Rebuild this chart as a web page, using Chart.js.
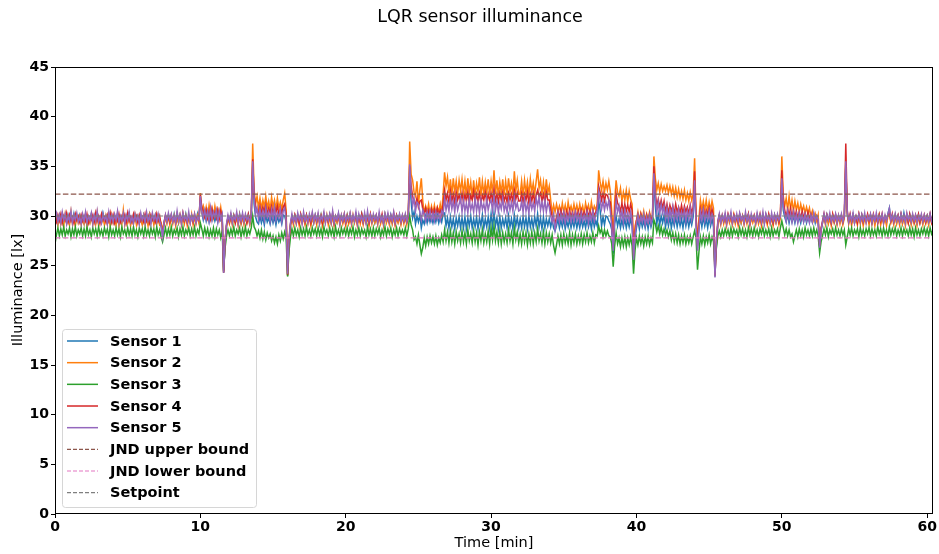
<!DOCTYPE html>
<html><head><meta charset="utf-8">
<script src="https://cdn.jsdelivr.net/npm/chart.js@4.4.1/dist/chart.umd.min.js"></script>
<style>html,body{margin:0;padding:0;background:#fff;}canvas{display:block;}</style>
</head><body>
<canvas id="c" width="939" height="554"></canvas>
<script>
// Time samples [min]
const time = [
0,0.1,0.2,0.3,0.4,0.5,0.6,0.7,0.8,0.9,1,1.1,1.2,1.3,1.4,1.5,1.6,1.7,1.8,1.9,
2,2.1,2.2,2.3,2.4,2.5,2.6,2.7,2.8,2.9,3,3.1,3.2,3.3,3.4,3.5,3.6,3.7,3.8,3.9,
4,4.1,4.2,4.3,4.4,4.5,4.6,4.7,4.8,4.9,5,5.1,5.2,5.3,5.4,5.5,5.6,5.7,5.8,5.9,
6,6.1,6.2,6.3,6.4,6.5,6.6,6.7,6.8,6.9,7,7.1,7.2,7.3,7.4,7.5,7.6,7.7,7.8,7.9,
8,8.1,8.2,8.3,8.4,8.5,8.6,8.7,8.8,8.9,9,9.1,9.2,9.3,9.4,9.5,9.6,9.7,9.8,9.9,
10,10.1,10.2,10.3,10.4,10.5,10.6,10.7,10.8,10.9,11,11.1,11.2,11.3,11.4,11.5,11.6,11.7,11.8,11.9,
12,12.1,12.2,12.3,12.4,12.5,12.6,12.7,12.8,12.9,13,13.1,13.2,13.3,13.4,13.5,13.6,13.7,13.8,13.9,
14,14.1,14.2,14.3,14.4,14.5,14.6,14.7,14.8,14.9,15,15.1,15.2,15.3,15.4,15.5,15.6,15.7,15.8,15.9,
16,16.1,16.2,16.3,16.4,16.5,16.6,16.7,16.8,16.9,17,17.1,17.2,17.3,17.4,17.5,17.6,17.7,17.8,17.9,
18,18.1,18.2,18.3,18.4,18.5,18.6,18.7,18.8,18.9,19,19.1,19.2,19.3,19.4,19.5,19.6,19.7,19.8,19.9,
20,20.1,20.2,20.3,20.4,20.5,20.6,20.7,20.8,20.9,21,21.1,21.2,21.3,21.4,21.5,21.6,21.7,21.8,21.9,
22,22.1,22.2,22.3,22.4,22.5,22.6,22.7,22.8,22.9,23,23.1,23.2,23.3,23.4,23.5,23.6,23.7,23.8,23.9,
24,24.1,24.2,24.3,24.4,24.5,24.6,24.7,24.8,24.9,25,25.1,25.2,25.3,25.4,25.5,25.6,25.7,25.8,25.9,
26,26.1,26.2,26.3,26.4,26.5,26.6,26.7,26.8,26.9,27,27.1,27.2,27.3,27.4,27.5,27.6,27.7,27.8,27.9,
28,28.1,28.2,28.3,28.4,28.5,28.6,28.7,28.8,28.9,29,29.1,29.2,29.3,29.4,29.5,29.6,29.7,29.8,29.9,
30,30.1,30.2,30.3,30.4,30.5,30.6,30.7,30.8,30.9,31,31.1,31.2,31.3,31.4,31.5,31.6,31.7,31.8,31.9,
32,32.1,32.2,32.3,32.4,32.5,32.6,32.7,32.8,32.9,33,33.1,33.2,33.3,33.4,33.5,33.6,33.7,33.8,33.9,
34,34.1,34.2,34.3,34.4,34.5,34.6,34.7,34.8,34.9,35,35.1,35.2,35.3,35.4,35.5,35.6,35.7,35.8,35.9,
36,36.1,36.2,36.3,36.4,36.5,36.6,36.7,36.8,36.9,37,37.1,37.2,37.3,37.4,37.5,37.6,37.7,37.8,37.9,
38,38.1,38.2,38.3,38.4,38.5,38.6,38.7,38.8,38.9,39,39.1,39.2,39.3,39.4,39.5,39.6,39.7,39.8,39.9,
40,40.1,40.2,40.3,40.4,40.5,40.6,40.7,40.8,40.9,41,41.1,41.2,41.3,41.4,41.5,41.6,41.7,41.8,41.9,
42,42.1,42.2,42.3,42.4,42.5,42.6,42.7,42.8,42.9,43,43.1,43.2,43.3,43.4,43.5,43.6,43.7,43.8,43.9,
44,44.1,44.2,44.3,44.4,44.5,44.6,44.7,44.8,44.9,45,45.1,45.2,45.3,45.4,45.5,45.6,45.7,45.8,45.9,
46,46.1,46.2,46.3,46.4,46.5,46.6,46.7,46.8,46.9,47,47.1,47.2,47.3,47.4,47.5,47.6,47.7,47.8,47.9,
48,48.1,48.2,48.3,48.4,48.5,48.6,48.7,48.8,48.9,49,49.1,49.2,49.3,49.4,49.5,49.6,49.7,49.8,49.9,
50,50.1,50.2,50.3,50.4,50.5,50.6,50.7,50.8,50.9,51,51.1,51.2,51.3,51.4,51.5,51.6,51.7,51.8,51.9,
52,52.1,52.2,52.3,52.4,52.5,52.6,52.7,52.8,52.9,53,53.1,53.2,53.3,53.4,53.5,53.6,53.7,53.8,53.9,
54,54.1,54.2,54.3,54.4,54.5,54.6,54.7,54.8,54.9,55,55.1,55.2,55.3,55.4,55.5,55.6,55.7,55.8,55.9,
56,56.1,56.2,56.3,56.4,56.5,56.6,56.7,56.8,56.9,57,57.1,57.2,57.3,57.4,57.5,57.6,57.7,57.8,57.9,
58,58.1,58.2,58.3,58.4,58.5,58.6,58.7,58.8,58.9,59,59.1,59.2,59.3,59.4,59.5,59.6,59.7,59.8,59.9,
60,60.1,60.2,60.3,60.4];

const sensor1 = [
29.5,30.1,29.3,30.0,29.4,30.2,29.6,29.9,29.3,30.1,29.5,30.0,29.4,30.2,29.3,29.9,29.6,30.1,29.4,30.0,
29.3,30.1,29.5,29.9,29.4,30.2,29.6,30.0,29.3,30.1,29.5,29.9,29.4,30.3,29.6,30.0,29.3,30.1,29.5,29.9,
29.4,30.0,29.6,30.2,29.3,29.9,29.5,30.1,29.4,30.0,29.6,30.2,29.3,29.9,29.5,30.1,29.4,30.0,29.6,29.9,
29.3,30.1,29.5,30.0,29.4,30.2,29.6,29.9,29.3,30.1,29.5,30.0,29.4,29.1,28.0,29.3,30.0,29.5,30.1,29.4,
30.0,29.4,30.2,29.5,29.9,29.3,30.1,29.6,30.0,29.4,30.2,29.5,29.9,29.3,30.1,29.6,30.0,29.4,30.2,29.5,
31.6,30.4,29.6,30.3,29.5,30.2,29.4,30.1,29.6,30.2,29.5,30.0,29.4,30.1,29.6,30.0,24.3,27.3,29.0,29.8,
29.4,30.0,29.3,30.1,29.5,29.9,29.4,30.2,29.3,30.0,29.5,29.9,29.4,30.1,29.3,30.0,35.0,31.2,29.9,29.4,
29.2,30.0,29.3,29.9,29.1,30.1,29.4,29.8,29.2,30.0,29.3,29.9,29.1,30.0,29.4,29.8,29.2,30.1,30.0,29.4,
24.0,27.4,29.1,29.9,29.4,30.0,29.3,30.1,29.5,29.9,29.4,30.0,29.3,30.1,29.5,29.9,29.4,30.0,29.3,30.1,
29.5,29.9,29.4,30.1,29.3,30.0,29.5,29.9,29.4,30.1,29.3,30.0,29.5,29.9,29.4,30.2,29.3,30.0,29.5,29.9,
29.4,30.1,29.3,30.0,29.5,29.9,29.4,30.1,29.3,30.0,29.5,30.2,29.4,29.9,29.3,30.1,29.5,30.0,29.4,29.9,
29.3,30.0,29.5,30.1,29.4,29.9,29.3,30.2,29.5,30.0,29.4,30.1,29.3,29.9,29.5,30.0,29.4,30.1,29.3,30.0,
29.5,29.9,29.4,30.0,34.0,31.5,29.8,30.4,29.2,30.0,29.4,30.1,28.8,29.6,29.2,30.0,29.3,30.1,29.4,29.9,
29.3,30.0,29.4,30.1,29.3,29.9,29.4,30.2,30.3,29.0,29.8,28.8,29.9,28.9,29.7,28.7,29.8,29.0,29.9,28.8,
29.8,28.8,29.9,28.7,29.8,29.0,30.0,28.8,29.7,28.9,29.9,28.7,29.8,29.0,30.1,28.8,29.7,28.9,29.9,28.8,
30.2,28.9,30.3,29.0,29.8,28.7,29.9,28.8,29.7,29.0,29.8,28.8,30.0,28.9,29.7,28.7,30.1,29.0,29.8,28.8,
29.7,28.8,29.9,28.9,29.8,28.7,30.0,28.9,29.7,28.8,29.9,29.0,30.2,28.9,29.8,28.7,29.9,28.8,29.7,29.0,
29.7,28.9,29.6,28.8,28.5,29.0,29.7,28.8,29.6,28.9,29.7,28.7,29.5,28.9,29.7,28.8,29.6,28.9,29.7,28.8,
29.6,28.8,29.7,28.9,29.5,28.8,29.7,28.9,29.6,28.7,29.8,28.9,29.5,29.0,31.5,30.6,29.0,29.9,29.1,30.0,
29.9,29.5,29.2,28.6,26.2,29.2,30.0,29.0,29.7,28.8,29.6,28.9,29.7,28.8,29.6,28.9,29.7,29.0,25.9,27.8,
28.8,29.6,28.7,29.7,28.9,29.5,28.8,29.6,28.7,29.7,28.9,29.5,33.5,31.0,29.2,30.2,29.1,30.0,29.3,30.1,
28.9,29.8,29.0,29.9,28.8,29.7,29.0,29.9,28.9,29.8,29.0,29.7,28.8,29.9,29.0,29.8,28.9,29.7,29.1,29.9,
33.0,29.4,26.8,28.9,29.8,28.9,29.9,29.0,29.7,28.8,29.8,29.0,29.7,28.9,23.9,27.2,29.2,30.0,29.3,29.9,
29.4,30.0,29.3,29.9,29.5,30.1,29.3,30.0,29.4,29.9,29.5,30.1,29.3,30.0,29.4,29.9,29.5,30.1,29.3,30.0,
29.5,29.9,29.3,30.1,29.4,30.0,29.5,29.9,29.3,30.1,29.4,30.0,29.5,29.9,29.3,30.1,29.4,30.0,29.5,29.9,
33.0,30.6,29.9,29.4,30.2,29.3,30.1,29.4,30.0,29.3,30.1,29.4,29.9,29.3,30.1,29.4,30.0,29.3,29.9,29.4,
30.0,29.4,30.1,29.3,29.9,29.5,26.9,28.5,29.3,30.0,29.4,30.1,29.3,29.9,29.5,30.0,29.4,30.1,29.3,29.9,
29.4,30.0,29.3,29.9,35.0,30.1,29.3,30.0,29.4,30.1,29.3,29.9,29.5,30.0,29.4,30.1,29.3,29.9,29.5,30.0,
29.4,30.1,29.3,30.0,29.5,29.9,29.4,30.1,29.3,30.0,29.5,29.9,29.4,30.2,30.8,29.5,30.0,29.4,30.1,29.3,
30.0,29.4,30.1,29.3,30.3,29.5,30.0,29.4,30.1,29.3,29.9,29.5,30.0,29.4,30.1,29.3,30.0,29.5,29.9,29.4,
30.0,29.3,30.1,29.5,29.9];

const sensor2 = [
29.4,29.9,29.1,30.0,29.2,29.8,29.0,30.2,29.3,29.7,29.1,30.4,29.2,29.8,29.0,30.0,29.3,29.9,29.1,29.7,
29.2,30.0,29.0,29.8,29.3,30.1,29.1,29.9,29.2,30.3,29.0,29.7,29.3,29.9,29.1,30.0,29.2,29.8,29.0,30.1,
29.3,29.9,29.1,30.2,29.0,29.8,29.2,30.6,29.1,29.9,29.3,30.0,29.0,29.8,29.2,30.1,29.1,29.9,29.3,29.7,
29.1,30.0,29.2,29.8,29.0,30.1,29.3,29.9,29.1,30.0,29.2,29.8,29.1,29.3,28.8,29.1,29.9,29.2,30.0,29.1,
29.9,29.2,30.0,29.0,29.8,29.3,30.1,29.1,29.9,29.2,30.0,29.0,29.8,29.3,30.2,29.1,29.9,29.2,30.0,29.3,
32.3,30.5,31.0,30.1,30.9,30.0,31.1,30.2,30.8,29.9,31.0,30.1,30.7,30.0,30.9,29.8,24.4,27.6,29.0,29.8,
29.2,29.9,29.1,30.0,29.3,29.8,29.0,30.1,29.2,29.9,29.1,30.0,29.3,29.8,29.1,29.9,37.3,32.6,31.2,32.0,
30.8,31.8,30.7,31.6,30.9,32.0,30.8,31.5,30.6,31.9,30.9,31.6,30.7,31.8,30.8,31.4,30.7,31.6,32.3,30.6,
24.0,27.5,29.0,29.8,29.1,30.0,29.2,29.9,29.0,30.1,29.3,29.8,29.1,30.0,29.2,29.9,29.0,29.8,29.3,30.0,
29.1,29.9,29.2,30.0,29.0,29.8,29.3,30.1,29.1,29.9,29.2,30.0,29.0,29.8,29.3,29.9,29.1,30.0,29.2,29.8,
29.0,30.0,29.2,29.8,29.1,30.1,29.3,29.9,29.0,29.8,29.2,30.0,29.1,29.9,29.3,29.8,29.0,30.1,29.2,29.9,
29.3,29.8,29.1,30.0,29.2,29.9,29.0,30.1,29.3,29.8,29.1,29.9,29.2,30.0,29.0,29.8,29.3,29.9,29.1,30.0,
29.2,29.9,29.1,29.8,37.5,34.2,33.6,32.4,32.0,33.5,31.2,32.6,33.8,31.5,30.3,31.0,30.4,31.2,30.2,31.0,
30.3,31.1,30.2,30.9,30.4,31.2,30.3,32.2,34.4,33.0,33.9,32.3,33.7,32.1,33.8,32.4,33.5,32.2,33.6,32.5,
33.7,32.2,33.5,32.0,33.8,32.3,33.4,31.9,33.6,32.1,33.3,32.4,33.9,32.0,33.5,32.2,33.4,32.3,33.7,32.1,
33.5,32.3,34.6,32.2,33.6,32.0,33.4,32.3,33.7,32.1,33.5,32.2,33.8,32.4,33.3,32.1,34.5,32.5,33.6,32.2,
32.2,33.5,32.0,33.6,32.3,33.4,32.1,33.7,32.4,33.3,32.2,33.5,34.7,32.8,33.6,32.2,33.4,32.1,33.7,32.3,
33.0,31.6,30.3,31.1,30.4,31.2,30.5,31.0,30.3,31.3,30.4,31.1,30.2,31.4,30.5,31.0,30.3,31.2,30.4,31.1,
30.3,31.2,30.4,31.0,30.2,31.3,30.5,31.1,30.3,31.4,30.4,31.0,30.6,31.2,34.6,33.4,32.6,33.5,32.4,33.3,
32.6,33.5,32.5,30.5,28.0,31.5,33.6,32.4,32.0,32.8,31.5,32.4,31.6,32.6,31.4,32.5,31.7,31.2,27.0,29.0,
29.6,30.4,29.5,30.3,29.7,30.5,29.6,30.2,29.5,30.4,29.7,30.1,36.0,33.8,32.6,33.3,32.4,33.2,32.5,33.0,
32.5,33.1,32.3,33.0,32.2,32.9,32.0,32.8,31.9,32.7,31.8,32.5,31.7,32.6,31.6,32.3,31.5,32.4,31.6,32.2,
35.8,30.0,27.5,29.8,31.6,30.7,31.5,30.6,31.6,30.5,31.4,30.6,31.5,30.8,24.0,27.4,29.2,29.9,29.1,30.0,
29.2,29.9,29.0,30.0,29.3,29.8,29.1,30.1,29.2,29.9,29.0,29.8,29.3,30.0,29.1,29.9,29.2,30.1,29.0,29.8,
29.3,29.9,29.1,30.0,29.2,29.8,29.0,30.1,29.3,29.9,29.1,30.0,29.2,29.8,29.0,29.9,29.3,30.0,29.1,29.8,
36.0,32.0,31.0,31.8,30.6,32.0,30.7,31.6,30.5,31.5,30.6,31.3,30.4,31.2,30.5,31.0,30.3,30.9,30.2,30.8,
29.9,30.5,29.6,30.2,29.5,30.1,27.2,28.8,29.3,29.9,29.1,30.0,29.2,29.8,29.0,30.1,29.3,29.9,29.1,30.0,
29.2,29.9,29.1,29.8,35.2,30.2,29.2,29.9,29.0,30.0,29.3,29.8,29.1,30.1,29.2,29.9,29.0,29.8,29.3,30.0,
29.1,29.9,29.2,30.0,29.0,29.8,29.3,30.1,29.1,29.9,29.2,29.8,29.0,30.0,30.2,29.3,29.9,29.1,30.0,29.2,
29.9,29.1,30.0,29.2,29.8,29.0,30.1,29.3,29.9,29.1,30.0,29.2,29.8,29.0,29.9,29.3,30.0,29.1,29.8,29.2,
29.9,29.1,30.0,29.3,29.8];

const sensor3 = [
27.2,28.1,28.8,28.0,28.7,28.1,28.9,28.0,28.6,28.2,28.8,27.9,28.7,28.1,28.9,28.0,28.6,28.2,28.8,28.0,
28.7,28.0,28.9,28.1,28.6,27.9,28.8,28.2,28.7,28.0,28.9,28.1,28.6,28.0,28.8,28.2,28.7,27.9,28.9,28.1,
28.6,28.0,28.8,28.1,28.7,27.9,28.9,28.2,28.6,28.0,28.8,28.1,28.7,28.0,28.9,28.1,28.6,27.9,28.8,28.2,
28.7,28.0,28.9,28.1,28.6,28.0,28.8,28.2,28.7,27.9,28.9,28.1,28.6,27.9,27.4,28.1,28.8,28.0,28.7,28.1,
28.9,28.0,28.6,28.2,28.8,27.9,28.7,28.1,28.9,28.0,28.6,28.2,28.8,28.0,28.7,28.1,28.9,28.0,28.6,28.2,
29.3,28.7,28.0,28.8,28.1,28.7,27.9,28.6,28.0,28.8,27.9,28.7,28.1,28.6,27.8,28.5,24.5,26.8,28.0,28.6,
28.0,28.7,28.1,28.9,28.0,28.6,28.2,28.8,27.9,28.7,28.1,28.9,28.0,28.6,28.2,28.8,30.0,28.9,28.6,28.0,
28.5,27.8,28.6,27.7,28.4,27.6,28.3,27.8,28.2,27.5,28.0,27.3,27.9,27.2,28.1,27.5,28.3,27.7,28.4,27.8,
23.9,26.5,27.9,28.7,28.0,28.8,28.1,28.6,27.9,28.8,28.1,28.7,28.0,28.9,28.1,28.6,28.0,28.8,28.2,28.7,
28.0,28.8,28.1,28.7,27.9,28.9,28.2,28.6,28.0,28.8,28.1,28.7,27.9,28.9,28.1,28.6,28.0,28.8,28.2,28.7,
28.1,28.8,28.0,28.7,28.2,28.9,27.9,28.6,28.1,28.8,28.0,28.7,28.2,28.6,27.9,28.9,28.1,28.7,28.0,28.8,
28.0,28.7,28.2,28.8,27.9,28.6,28.1,28.9,28.0,28.7,28.2,28.8,27.9,28.6,28.1,28.8,28.0,28.7,28.2,28.6,
28.1,28.8,28.0,28.7,30.0,29.1,28.6,27.6,27.9,27.2,28.1,27.1,26.2,26.8,27.8,27.0,27.9,27.2,28.0,27.3,
27.9,27.2,28.0,27.1,27.8,27.3,28.1,27.4,28.6,27.5,28.4,27.3,28.5,27.4,28.3,27.2,28.4,27.5,28.2,27.3,
28.5,27.4,28.3,27.2,28.6,27.5,28.2,27.3,28.5,27.4,28.3,27.1,28.4,27.5,28.6,27.3,28.2,27.4,28.5,27.2,
28.8,27.6,29.0,27.5,28.4,27.3,28.5,27.2,28.3,27.4,28.2,27.3,28.6,27.5,28.3,27.2,28.8,27.6,28.4,27.3,
28.2,27.2,28.4,27.4,28.3,27.1,28.2,27.3,28.4,27.2,28.3,27.4,28.7,27.5,28.2,27.3,28.4,27.2,28.3,27.4,
28.2,27.3,28.1,27.0,26.3,27.1,28.0,27.2,28.1,27.1,28.2,27.3,28.0,27.2,28.3,27.1,28.1,27.3,28.2,27.2,
28.0,27.3,28.2,27.2,28.1,27.4,28.3,27.3,28.0,27.4,28.3,27.3,28.1,28.0,29.0,28.3,28.7,27.9,28.6,28.0,
28.5,28.0,27.9,27.2,24.9,27.0,28.3,27.2,27.8,26.9,27.8,27.0,27.9,26.9,27.8,27.1,27.9,27.0,24.2,26.5,
27.8,27.1,28.0,27.2,27.9,27.0,27.9,27.2,28.0,27.1,27.8,27.3,29.6,29.2,28.4,29.0,28.2,28.9,28.1,28.7,
28.1,28.6,27.9,28.5,27.6,28.3,27.4,28.2,27.3,28.1,27.2,28.0,27.3,28.1,27.2,27.9,27.3,28.0,27.2,27.9,
28.5,27.8,24.6,26.4,27.9,27.2,28.0,27.1,27.9,27.3,28.1,27.2,27.9,27.4,25.0,26.8,28.0,28.5,27.9,28.6,
28.0,28.7,28.1,28.6,27.9,28.8,28.0,28.7,28.2,28.6,27.9,28.8,28.1,28.7,28.0,28.6,27.9,28.8,28.1,28.7,
28.0,28.8,28.1,28.6,27.9,28.7,28.2,28.8,28.0,28.6,28.1,28.7,27.9,28.8,28.0,28.6,28.2,28.7,27.9,28.8,
29.5,28.8,28.1,28.7,28.0,28.6,27.9,28.2,27.4,28.0,28.6,27.9,28.7,28.0,28.6,27.9,28.8,28.1,28.6,28.0,
28.7,28.0,28.8,28.1,28.6,28.0,26.3,27.4,28.0,28.7,28.1,28.8,27.9,28.6,28.2,28.7,28.0,28.8,28.1,28.6,
28.0,28.7,28.1,28.6,27.1,27.9,28.7,28.1,28.8,28.0,28.6,28.2,28.7,27.9,28.8,28.1,28.6,28.0,28.7,28.2,
28.8,28.0,28.7,28.1,28.6,28.0,28.9,28.2,28.7,28.0,28.8,28.1,28.6,28.0,28.9,28.1,28.7,28.2,28.8,28.0,
28.6,28.1,28.8,28.0,28.7,28.2,28.6,28.0,28.8,28.1,28.7,27.9,28.8,28.1,28.6,28.0,28.7,28.2,28.8,28.1,
28.7,28.0,28.8,28.2,28.6];

const sensor4 = [
29.9,29.4,30.1,29.5,30.2,29.3,30.0,29.6,30.3,29.4,30.1,29.5,29.9,29.3,30.2,29.6,30.0,29.4,30.1,29.5,
30.0,29.5,30.2,29.3,29.9,29.6,30.1,29.4,30.3,29.5,30.0,29.3,30.2,29.6,29.9,29.4,30.1,29.5,30.3,29.4,
30.1,29.3,29.9,29.5,30.2,29.4,30.0,29.6,30.1,29.3,30.3,29.5,29.9,29.4,30.2,29.6,30.0,29.3,30.1,29.5,
29.9,29.4,30.2,29.5,30.0,29.3,30.1,29.6,29.9,29.4,30.2,29.5,30.0,29.1,28.2,29.3,30.1,29.5,29.9,29.4,
30.1,29.5,29.9,29.3,30.2,29.6,30.0,29.4,30.3,29.5,29.9,29.3,30.1,29.6,30.0,29.4,30.2,29.5,29.9,29.6,
32.1,30.9,30.5,29.9,30.6,29.8,30.5,29.7,30.7,29.9,30.4,29.8,30.6,29.7,30.5,29.9,24.3,27.4,29.1,29.9,
29.4,30.1,29.5,30.0,29.3,30.2,29.6,29.9,29.4,30.1,29.5,30.0,29.3,30.2,29.6,29.9,35.7,32.0,31.0,30.4,
30.3,31.0,30.2,30.9,30.4,31.1,30.1,30.8,30.3,31.0,30.2,30.9,30.4,31.0,30.1,30.8,30.3,30.9,31.2,30.2,
24.1,27.6,29.2,30.0,29.4,30.1,29.5,29.9,29.3,30.2,29.6,30.0,29.4,30.1,29.5,29.9,29.3,30.2,29.6,30.0,
29.4,30.1,29.5,30.0,29.3,30.2,29.6,29.9,29.4,30.1,29.5,30.3,29.3,30.0,29.6,30.1,29.4,29.9,29.5,30.2,
29.3,30.0,29.5,30.2,29.4,29.9,29.6,30.1,29.3,30.0,29.5,30.2,29.4,30.1,29.6,29.9,29.3,30.2,29.5,30.0,
29.6,30.1,29.4,30.0,29.5,30.2,29.3,29.9,29.6,30.1,29.4,30.0,29.5,30.3,29.3,30.1,29.6,29.9,29.4,30.0,
29.5,30.1,29.4,29.9,35.0,33.0,32.0,31.4,31.2,31.8,30.9,31.5,31.6,30.7,30.2,30.8,30.1,30.6,30.0,30.7,
30.1,30.7,30.0,30.8,30.2,30.6,30.1,31.2,32.6,31.6,32.3,31.4,32.5,31.5,32.2,31.3,32.4,31.6,32.1,31.5,
32.3,31.4,32.2,31.5,32.4,31.3,32.1,31.6,32.5,31.4,32.2,31.5,32.3,31.3,32.1,31.6,32.4,31.4,32.2,31.5,
32.3,31.6,32.7,31.5,32.2,31.4,32.3,31.6,32.4,31.5,32.1,31.4,32.3,31.6,32.2,31.5,32.6,31.7,32.3,31.5,
31.5,32.3,31.4,32.2,31.6,32.4,31.3,32.2,31.5,32.3,31.4,32.1,32.6,31.9,32.3,31.5,32.2,31.4,32.4,31.6,
31.6,30.6,30.0,29.7,29.2,29.9,30.5,29.8,30.6,29.9,30.4,29.7,30.5,29.8,30.6,29.9,30.4,29.8,30.5,29.9,
30.5,29.8,30.6,29.9,30.4,29.8,30.7,29.9,30.5,29.8,30.6,30.0,30.4,30.7,33.0,32.4,31.6,32.3,31.5,32.2,
32.1,31.6,31.4,29.5,26.8,30.2,32.2,31.3,31.0,30.5,31.3,30.4,31.2,30.5,31.1,30.4,31.2,30.6,26.0,28.3,
29.5,30.1,29.4,30.2,29.6,30.0,29.4,30.1,29.5,30.2,29.6,29.9,35.0,32.3,31.0,31.7,30.9,31.6,30.8,31.5,
30.4,31.2,30.3,31.1,30.5,31.0,30.2,31.2,30.4,30.9,30.3,31.1,30.2,31.0,30.4,30.9,30.2,31.1,30.3,30.9,
34.5,29.8,27.0,29.2,30.7,30.0,30.8,29.9,30.6,30.1,30.8,29.9,30.7,30.0,24.0,27.3,29.5,30.1,29.4,30.0,
29.5,30.1,29.3,30.2,29.6,30.0,29.4,30.1,29.5,29.9,29.3,30.2,29.6,30.0,29.4,30.1,29.5,30.2,29.3,30.0,
29.6,30.1,29.4,29.9,29.5,30.2,29.3,30.0,29.6,30.1,29.4,30.2,29.5,29.9,29.3,30.1,29.6,30.0,29.4,30.2,
34.6,31.5,30.6,29.9,30.7,30.0,30.8,29.8,30.6,29.9,30.5,29.8,30.4,29.7,30.5,29.8,30.3,29.6,30.4,29.7,
30.2,29.5,30.1,29.6,30.0,29.4,27.0,28.7,29.5,30.2,29.4,30.1,29.6,30.0,29.3,30.2,29.5,30.1,29.4,30.0,
29.6,30.1,29.4,30.0,37.3,30.6,29.5,30.2,29.4,30.1,29.6,30.0,29.3,30.2,29.5,30.1,29.4,30.0,29.6,30.2,
29.5,30.1,29.4,30.2,29.6,30.0,29.3,30.1,29.5,30.2,29.4,30.0,29.6,30.1,30.4,29.5,30.2,29.4,30.0,29.6,
30.1,29.4,30.2,29.5,30.0,29.6,30.1,29.3,30.2,29.5,30.0,29.4,30.1,29.6,30.2,29.4,30.0,29.5,30.1,29.4,
30.0,29.5,30.2,29.4,30.1];

const sensor5 = [
29.8,30.3,29.4,30.1,29.3,30.4,29.6,30.2,29.2,30.0,29.5,30.5,29.3,30.1,29.6,30.3,29.4,29.9,29.2,30.2,
29.5,30.4,29.3,30.0,29.6,30.3,29.2,30.1,29.5,30.5,29.4,29.9,29.3,30.2,29.6,30.0,29.2,30.4,29.5,30.1,
29.4,30.2,29.6,30.5,29.3,30.0,29.5,30.3,29.2,30.1,29.6,30.4,29.4,29.9,29.3,30.2,29.5,30.0,29.2,30.3,
29.6,30.1,29.3,30.4,29.5,30.0,29.2,30.3,29.6,30.1,29.4,30.2,29.5,29.0,27.9,29.3,30.1,29.4,30.3,29.6,
30.2,29.4,30.0,29.3,30.5,29.5,30.1,29.2,30.3,29.6,30.0,29.4,30.4,29.3,30.1,29.5,30.2,29.3,29.9,29.6,
32.0,30.4,29.8,30.6,29.7,30.5,29.5,30.8,29.6,30.4,29.9,30.6,29.4,30.5,29.7,30.2,24.3,27.5,29.2,30.1,
29.5,30.3,29.3,30.0,29.6,30.4,29.2,30.1,29.5,30.3,29.4,30.2,29.6,30.0,29.3,30.1,35.5,31.8,30.2,30.8,
29.7,30.7,29.8,30.5,29.6,30.8,29.9,30.4,29.5,30.6,29.7,30.9,29.6,30.3,29.8,30.7,29.5,30.5,30.8,29.6,
24.2,27.8,29.3,30.2,29.4,30.0,29.3,30.3,29.6,30.1,29.2,30.4,29.5,30.0,29.3,30.2,29.6,30.4,29.4,30.1,
29.5,30.3,29.2,30.0,29.6,30.4,29.3,30.1,29.5,30.2,29.4,30.5,29.3,30.0,29.6,30.3,29.2,30.1,29.5,30.2,
29.4,30.0,29.6,30.3,29.3,30.1,29.5,30.4,29.2,30.2,29.6,30.0,29.4,30.3,29.3,30.5,29.5,30.1,29.4,30.2,
29.6,30.1,29.3,30.4,29.5,30.0,29.2,30.2,29.6,30.3,29.4,30.1,29.5,30.4,29.3,30.0,29.6,30.2,29.4,30.1,
29.5,30.2,29.4,30.0,35.2,32.4,31.0,31.8,30.5,31.4,31.2,30.4,29.6,30.6,30.2,29.5,30.4,29.7,30.5,29.6,
30.3,29.5,30.4,29.7,30.2,29.6,30.5,30.2,31.8,30.6,31.4,30.5,31.9,30.7,31.5,30.4,31.7,30.6,31.2,31.8,
30.4,31.6,30.5,31.3,30.3,31.7,30.6,31.2,30.4,31.8,30.5,31.4,30.3,31.6,30.7,31.2,30.4,31.7,30.6,31.3,
31.6,30.5,32.0,30.6,31.5,30.4,31.3,30.7,31.8,30.5,31.2,30.4,31.6,30.6,31.4,30.5,31.9,30.8,31.3,30.5,
30.6,31.5,30.4,31.7,30.5,31.2,30.3,31.6,30.7,31.3,30.5,31.8,31.0,31.9,30.6,31.4,30.5,31.6,30.4,31.3,
30.9,30.0,29.4,30.2,28.6,29.5,30.3,29.4,30.2,29.5,30.4,29.3,30.1,29.6,30.3,29.4,30.2,29.5,30.4,29.6,
30.2,29.4,30.3,29.5,30.1,29.6,30.4,29.3,30.2,29.6,30.5,29.5,30.1,30.6,32.5,31.6,30.7,31.5,30.6,31.4,
30.8,31.6,30.5,29.0,26.5,29.8,31.5,30.4,31.0,29.7,30.5,29.4,30.6,29.6,30.3,29.5,30.4,29.6,25.6,28.0,
29.3,30.1,29.2,30.0,29.4,30.2,29.1,29.9,29.3,30.1,29.2,29.8,34.3,31.8,30.4,31.4,30.2,31.2,30.3,31.0,
29.7,30.8,29.6,30.6,29.8,30.9,29.5,30.5,29.7,30.7,29.6,30.4,29.8,30.6,29.5,30.5,29.7,30.8,29.6,30.4,
33.6,29.0,26.5,28.8,30.4,29.6,30.6,29.5,30.3,29.7,30.5,29.4,30.2,29.8,23.8,27.6,29.4,30.2,29.3,30.1,
29.5,30.3,29.2,30.1,29.6,30.4,29.3,30.0,29.5,30.2,29.4,30.3,29.6,30.0,29.3,30.4,29.5,30.1,29.2,30.2,
29.6,30.0,29.3,30.3,29.5,30.1,29.4,30.4,29.2,30.2,29.6,30.0,29.3,30.3,29.5,30.1,29.4,30.2,29.6,30.0,
33.8,31.0,30.2,29.5,30.5,29.6,30.3,29.4,30.4,29.5,30.2,29.3,30.3,29.6,30.1,29.4,30.2,29.5,30.0,29.3,
30.1,29.4,30.3,29.5,30.0,29.6,26.8,28.6,29.4,30.2,29.3,30.1,29.6,30.3,29.4,30.0,29.5,30.2,29.3,30.1,
29.5,30.2,29.4,30.0,35.5,30.4,29.4,30.1,29.5,30.3,29.3,30.0,29.6,30.2,29.4,30.1,29.5,30.3,29.3,30.0,
29.6,30.2,29.3,30.1,29.5,30.3,29.4,30.0,29.6,30.2,29.3,30.1,29.5,30.2,30.8,29.6,30.1,29.4,30.2,29.5,
30.0,29.4,30.2,29.5,30.1,29.3,30.3,29.6,30.0,29.4,30.2,29.5,30.1,29.3,30.0,29.6,30.2,29.4,30.1,29.5,
30.0,29.4,30.2,29.5,29.9];

const setpoint = 30;
const jndUpper = 32.2;
const jndLower = 27.8;
const timeRange = [0, 60.4];
const xTicks = [0, 10, 20, 30, 40, 50, 60];
const yTicks = [0, 5, 10, 15, 20, 25, 30, 35, 40, 45];
const seriesLabels = ['Sensor 1','Sensor 2','Sensor 3','Sensor 4','Sensor 5','JND upper bound','JND lower bound','Setpoint'];

const colors = ['#1f77b4','#ff7f0e','#2ca02c','#d62728','#9467bd','#8c564b','#e377c2','#7f7f7f'];
const sensors = [sensor1, sensor2, sensor3, sensor4, sensor5];
const refs = [jndUpper, jndLower, setpoint];
const FONT = "'DejaVu Sans', sans-serif";

const datasets = [];
sensors.forEach((s, k) => {
  datasets.push({
    label: seriesLabels[k],
    data: s.map((v, i) => ({x: time[i], y: v})),
    borderColor: colors[k], borderWidth: 1.5,
    pointRadius: 0, tension: 0, fill: false,
    order: 7 - k
  });
});
refs.forEach((r, j) => {
  datasets.push({
    label: seriesLabels[5 + j],
    data: [{x: timeRange[0], y: r}, {x: timeRange[1], y: r}],
    borderColor: colors[5 + j], borderWidth: 1.2, borderDash: [5.5, 2.4],
    pointRadius: 0, fill: false,
    order: 2 - j
  });
});

const overlay = {
  id: 'overlay',
  afterDraw(chart) {
    const ctx = chart.ctx, a = chart.chartArea;
    ctx.save();
    ctx.strokeStyle = '#000'; ctx.lineWidth = 1;
    ctx.strokeRect(Math.round(a.left) + 0.5, Math.round(a.top) + 0.5, Math.round(a.right - a.left) - 1, Math.round(a.bottom - a.top) - 1);
    ctx.fillStyle = '#000';
    ctx.textAlign = 'center'; ctx.textBaseline = 'middle';
    ctx.font = "17.5px " + FONT;
    ctx.fillText('LQR sensor illuminance', 480, 17);
    ctx.font = "14.5px " + FONT;
    ctx.fillText('Time [min]', 494, 543);
    ctx.save();
    ctx.translate(18, 290); ctx.rotate(-Math.PI / 2);
    ctx.fillText('Illuminance [lx]', 0, 0);
    ctx.restore();
    const bx = 62.5, by = 329.5, bw = 194, bh = 178, r = 3;
    ctx.beginPath();
    ctx.moveTo(bx + r, by); ctx.lineTo(bx + bw - r, by); ctx.arcTo(bx + bw, by, bx + bw, by + r, r);
    ctx.lineTo(bx + bw, by + bh - r); ctx.arcTo(bx + bw, by + bh, bx + bw - r, by + bh, r);
    ctx.lineTo(bx + r, by + bh); ctx.arcTo(bx, by + bh, bx, by + bh - r, r);
    ctx.lineTo(bx, by + r); ctx.arcTo(bx, by, bx + r, by, r);
    ctx.closePath();
    ctx.fillStyle = 'rgba(255,255,255,0.8)'; ctx.fill();
    ctx.strokeStyle = '#d6d6d6'; ctx.lineWidth = 1; ctx.stroke();
    ctx.font = "bold 14.5px " + FONT; ctx.textAlign = 'left'; ctx.textBaseline = 'middle';
    seriesLabels.forEach((lab, i) => {
      const y = 341 + i * 21.67;
      ctx.beginPath();
      ctx.strokeStyle = colors[i];
      ctx.lineWidth = i < 5 ? 1.5 : 1.2;
      ctx.setLineDash(i < 5 ? [] : [4, 2]);
      ctx.moveTo(67, y); ctx.lineTo(98, y); ctx.stroke();
      ctx.setLineDash([]);
      ctx.fillStyle = '#000';
      ctx.fillText(lab, 110, y + 1);
    });
    ctx.restore();
  }
};

new Chart(document.getElementById('c'), {
  type: 'line',
  data: { datasets },
  options: {
    responsive: false, animation: false, devicePixelRatio: 1,
    layout: { padding: { top: 67, right: 6, left: 0, bottom: 0 } },
    plugins: { legend: { display: false }, tooltip: { enabled: false }, title: { display: false } },
    scales: {
      x: {
        type: 'linear', min: timeRange[0], max: timeRange[1],
        afterBuildTicks: (s) => { s.ticks = xTicks.map(v => ({value: v})); },
        afterFit: (s) => { s.height = 40; },
        grid: { drawOnChartArea: false, drawTicks: true, tickLength: 4, color: '#000', lineWidth: 1 },
        border: { display: false },
        ticks: { font: { family: FONT, size: 14, weight: 'bold' }, color: '#000', padding: 1, maxRotation: 0 }
      },
      y: {
        type: 'linear', min: 0, max: 45,
        afterBuildTicks: (s) => { s.ticks = yTicks.map(v => ({value: v})); },
        afterFit: (s) => { s.width = 55; },
        grid: { drawOnChartArea: false, drawTicks: true, tickLength: 4, color: '#000', lineWidth: 1 },
        border: { display: false },
        ticks: { font: { family: FONT, size: 14, weight: 'bold' }, color: '#000', padding: 2 }
      }
    }
  },
  plugins: [overlay]
});
</script>
</body></html>
